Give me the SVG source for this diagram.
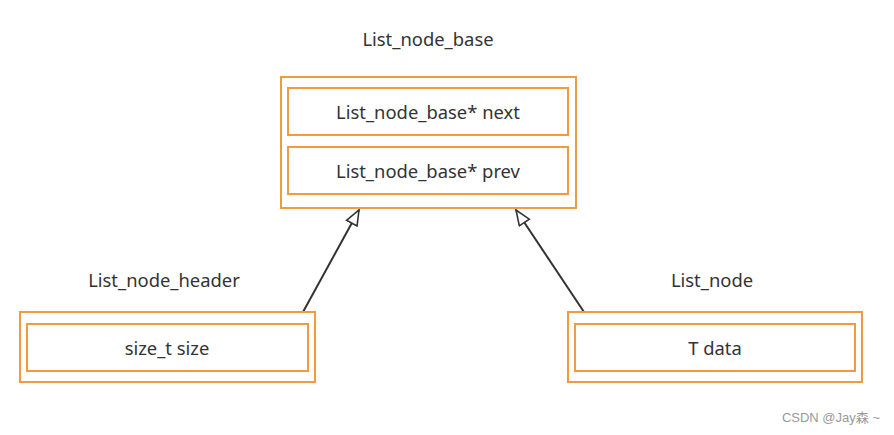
<svg xmlns="http://www.w3.org/2000/svg" width="894" height="435" viewBox="0 0 894 435">
<style>
.box{fill:#fff;stroke:#f19b40;stroke-width:2}
.t{font-family:"Noto Sans","Liberation Sans",sans-serif;font-size:18.4px;fill:#333;text-anchor:middle}
.c{stroke:#333;stroke-width:2;fill:none}
</style>
<defs>
<marker id="tri" markerWidth="18" markerHeight="14" refX="16" refY="7" orient="auto" markerUnits="userSpaceOnUse">
<path d="M1,1 L16,7 L1,13 Z" fill="#fff" stroke="#333" stroke-width="1.6"/>
</marker>
</defs>
<rect width="894" height="435" fill="#fff"/>
<g id="connectors">
<line class="c" x1="303" y1="312" x2="359" y2="210" marker-end="url(#tri)"/>
<line class="c" x1="584" y1="312" x2="516" y2="210" marker-end="url(#tri)"/>
</g>
<g id="list_node_base">
<text class="t" x="428" y="46">List_node_base</text>
<rect class="box" x="281" y="77" width="295" height="131"/>
<rect class="box" x="288" y="88" width="280" height="47"/>
<text class="t" x="428" y="119">List_node_base* next</text>
<rect class="box" x="288" y="147" width="280" height="47"/>
<text class="t" x="428" y="178">List_node_base* prev</text>
</g>
<g id="list_node_header">
<text class="t" x="164" y="287">List_node_header</text>
<rect class="box" x="20" y="312" width="295" height="70"/>
<rect class="box" x="27" y="324" width="281" height="47"/>
<text class="t" x="167" y="355">size_t size</text>
</g>
<g id="list_node">
<text class="t" x="712" y="287">List_node</text>
<rect class="box" x="568" y="312" width="294" height="70"/>
<rect class="box" x="575" y="324" width="280" height="47"/>
<text class="t" x="715" y="355">T data</text>
</g>
<text x="880" y="422" font-family="'Liberation Sans','Noto Sans CJK SC',sans-serif" font-size="13" fill="#999" text-anchor="end">CSDN @Jay森 ~</text>
</svg>
